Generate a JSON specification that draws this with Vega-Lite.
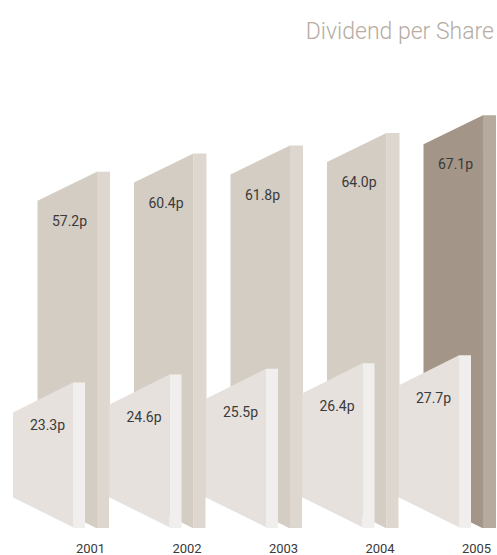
{
  "$schema": "https://vega.github.io/schema/vega-lite/v6.json",
  "width": 497,
  "height": 468,
  "autosize": {"type": "none"},
  "padding": {"left": 0, "right": 0, "top": 60, "bottom": 27},
  "background": "white",
  "config": {"view": {"stroke": null}, "font": "Roboto"},
  "title": {
    "text": "Dividend per Share",
    "anchor": "end",
    "frame": "group",
    "orient": "top",
    "fontSize": 23,
    "fontWeight": 300,
    "color": "#b6aca2",
    "font": "Roboto",
    "baseline": "alphabetic",
    "offset": 0,
    "dx": -3,
    "dy": 2
  },
  "data": {
    "values": [
      {"year": "2001", "full_year": 57.2, "interim": 23.3},
      {"year": "2002", "full_year": 60.4, "interim": 24.6},
      {"year": "2003", "full_year": 61.8, "interim": 25.5},
      {"year": "2004", "full_year": 64.0, "interim": 26.4},
      {"year": "2005", "full_year": 67.1, "interim": 27.7}
    ]
  },
  "transform": [
    {"calculate": "format(datum.full_year, '.1f') + 'p'", "as": "full_label"},
    {"calculate": "format(datum.interim, '.1f') + 'p'", "as": "interim_label"}
  ],
  "encoding": {
    "x": {
      "field": "year",
      "type": "ordinal",
      "scale": {"type": "band", "paddingInner": 0, "paddingOuter": 0.075},
      "axis": {
        "title": null,
        "domain": false,
        "ticks": false,
        "labelAngle": 0,
        "labelOffset": 35,
        "labelPadding": 14,
        "labelFontSize": 13,
        "labelColor": "#3a3a3a",
        "labelFont": "Roboto"
      }
    }
  },
  "layer": [
    {
      "encoding": {
        "y": {"field": "full_year", "type": "quantitative", "scale": {"domain": [-5.18, 76.78]}, "axis": null}
      },
      "layer": [
        {
          "mark": {"type": "point", "shape": "M 41.5 0 L 54.5 0 L 54.5 700 L 41.5 700 Z", "size": 4, "filled": true, "opacity": 1, "strokeWidth": 0, "clip": true},
          "encoding": {"color": {"condition": {"test": "datum.year == '2005'", "value": "#b6aa9e"}, "value": "#ddd7d0"}}
        },
        {
          "mark": {"type": "point", "shape": "M 41.5 0 L 41.5 700 L -18 700 L -18 29 Z", "size": 4, "filled": true, "opacity": 1, "strokeWidth": 0, "clip": true},
          "encoding": {"color": {"condition": {"test": "datum.year == '2005'", "value": "#a39587"}, "value": "#d4cdc4"}}
        },
        {
          "mark": {"type": "point", "shape": "M -18.5 0 L 41.5 30 L 41.5 120 L -18.5 120 Z", "size": 4, "filled": true, "opacity": 1, "strokeWidth": 0, "color": "white", "clip": true},
          "encoding": {"y": {"datum": 0, "type": "quantitative", "scale": {"domain": [-5.18, 76.78]}, "axis": null}}
        },
        {
          "mark": {"type": "text", "dx": 14, "dy": 54, "baseline": "alphabetic", "align": "center", "fontSize": 14, "color": "#3a3a3a", "font": "Roboto"},
          "encoding": {"text": {"field": "full_label"}}
        }
      ]
    },
    {
      "encoding": {
        "y": {"field": "interim", "type": "quantitative", "scale": {"domain": [-0.13, 75.23]}, "axis": null}
      },
      "layer": [
        {
          "mark": {"type": "point", "shape": "M 17.5 0 L 29.5 0 L 29.5 700 L 17.5 700 Z", "size": 4, "filled": true, "opacity": 1, "strokeWidth": 0, "color": "#f1efed", "clip": true}
        },
        {
          "mark": {"type": "point", "shape": "M 17.5 0 L 17.5 700 L -42.5 700 L -42.5 30 Z", "size": 4, "filled": true, "opacity": 1, "strokeWidth": 0, "color": "#e6e1dd", "clip": true}
        },
        {
          "mark": {"type": "point", "shape": "M -43 -30 L 17.5 0 L 17.5 120 L -43 120 Z", "size": 4, "filled": true, "opacity": 1, "strokeWidth": 0, "color": "white", "clip": true},
          "encoding": {"y": {"datum": 0, "type": "quantitative", "scale": {"domain": [-0.13, 75.23]}, "axis": null}}
        },
        {
          "mark": {"type": "text", "dx": -8, "dy": 48, "baseline": "alphabetic", "align": "center", "fontSize": 14, "color": "#3a3a3a", "font": "Roboto"},
          "encoding": {"text": {"field": "interim_label"}}
        }
      ]
    }
  ],
  "resolve": {"scale": {"y": "independent"}}
}
